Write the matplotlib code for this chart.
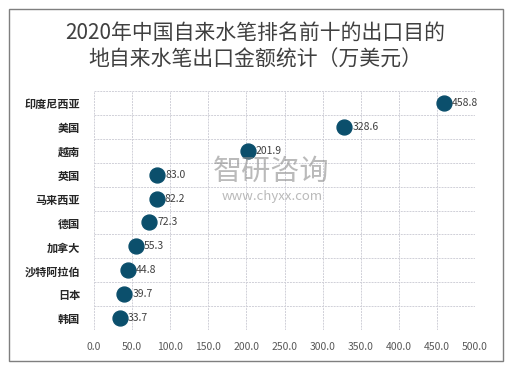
import matplotlib.pyplot as plt
from matplotlib.patches import Rectangle

plt.rcParams['font.family'] = ['Noto Sans CJK SC', 'DejaVu Sans']

countries = ['印度尼西亚', '美国', '越南', '英国', '马来西亚', '德国', '加拿大', '沙特阿拉伯', '日本', '韩国']
values = [458.8, 328.6, 201.9, 83.0, 82.2, 72.3, 55.3, 44.8, 39.7, 33.7]
xticks = [0, 50, 100, 150, 200, 250, 300, 350, 400, 450, 500]

fig = plt.figure(figsize=[5.1, 3.66], dpi=100)
ax = fig.add_axes([94 / 510, 1 - 330 / 366, (475 - 94) / 510, (330 - 91) / 366])

# outer frame
fig.patches.append(Rectangle((9 / 510, 1 - 361 / 366), 494 / 510, 352 / 366,
                             transform=fig.transFigure, fill=False,
                             edgecolor='#7f7f7f', linewidth=1.0))

n = len(countries)
ypos = [n - i - 0.5 for i in range(n)]
ax.scatter(values, ypos, s=115, color='#0b4f6c', zorder=3)
for v, y in zip(values, ypos):
    ax.annotate(f'{v:.1f}', (v, y), xytext=(8, 0), textcoords='offset pixels',
                va='center', ha='left', fontsize=7.5, color='#404040', zorder=4)

ax.set_xlim(0, 500)
ax.set_ylim(0, n)
ax.set_xticks(xticks)
ax.set_xticklabels([f'{t:.1f}' for t in xticks], fontsize=7.5, color='#595959')
ax.set_yticks([i for i in range(n + 1)], minor=False)
ax.set_yticklabels([])
ax.set_yticks(ypos, minor=True)
ax.set_yticklabels(countries, minor=True, fontsize=8, fontweight='bold', color='#262626')
ax.tick_params(axis='both', which='both', length=0)
ax.tick_params(axis='x', pad=9)
ax.tick_params(axis='y', which='minor', pad=10)
ax.grid(True, which='major', color='#d0d0d8', linestyle=(0, (2, 1)), linewidth=0.7)
ax.set_axisbelow(True)
for s in ax.spines.values():
    s.set_visible(False)

fig.text(0.5, 1 - 33 / 366, '2020年中国自来水笔排名前十的出口目的', ha='center', va='center',
         fontsize=15, color='#404040')
fig.text(0.5, 1 - 60 / 366, '地自来水笔出口金额统计（万美元）', ha='center', va='center',
         fontsize=15, color='#404040')

# watermark
fig.text(213 / 510, 1 - 172 / 366, '智研咨询', ha='left', va='center', fontsize=21,
         color='#8c8c8c', alpha=0.6)
fig.text(323 / 510, 1 - 196 / 366, 'www.chyxx.com', ha='right', va='center', fontsize=9.5,
         color='#8c8c8c', alpha=0.6)

fig.savefig('out.png', dpi=100)
